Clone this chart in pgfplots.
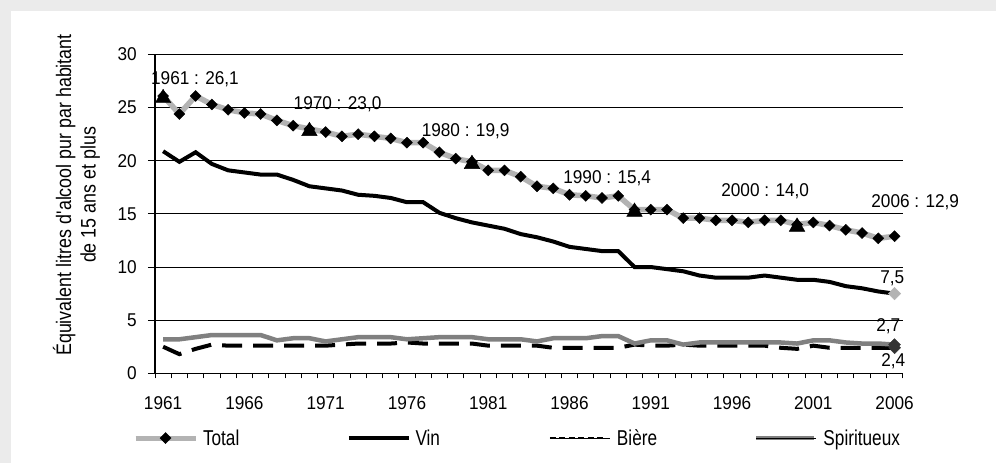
\documentclass[border=0pt]{standalone}
\usepackage{fontspec}
\setmainfont{Liberation Sans}[FakeStretch=0.93]
\newfontfamily\legfont{Liberation Sans}[FakeStretch=0.8]
\newfontfamily\labfont{Liberation Sans}[FakeStretch=0.85]
\usepackage{pgfplots}
\usepackage{pgfplotstable}
\pgfplotsset{compat=1.18}
\definecolor{bggray}{HTML}{EBEBEB}
\definecolor{totgray}{HTML}{B3B3B3}
\definecolor{spigray}{HTML}{808080}
\definecolor{dkgray}{HTML}{333333}

\pgfplotstableread{
i total vin biere spirit
0 26.1 20.9 2.5 3.2
1 24.4 19.9 1.8 3.2
2 26.1 20.8 2.3 3.4
3 25.3 19.7 2.7 3.6
4 24.8 19.1 2.6 3.6
5 24.5 18.9 2.6 3.6
6 24.4 18.7 2.6 3.6
7 23.8 18.7 2.6 3.1
8 23.3 18.2 2.6 3.3
9 23.0 17.6 2.6 3.3
10 22.7 17.4 2.6 3.0
11 22.3 17.2 2.7 3.2
12 22.5 16.8 2.8 3.4
13 22.3 16.7 2.8 3.4
14 22.1 16.5 2.8 3.4
15 21.7 16.1 2.9 3.2
16 21.7 16.1 2.8 3.3
17 20.8 15.1 2.8 3.4
18 20.2 14.6 2.8 3.4
19 19.9 14.2 2.8 3.4
20 19.1 13.9 2.6 3.2
21 19.1 13.6 2.6 3.2
22 18.5 13.1 2.6 3.2
23 17.6 12.8 2.6 3.0
24 17.4 12.4 2.4 3.3
25 16.8 11.9 2.4 3.3
26 16.7 11.7 2.4 3.3
27 16.5 11.5 2.4 3.5
28 16.7 11.5 2.4 3.5
29 15.4 10.0 2.7 2.8
30 15.4 10.0 2.6 3.1
31 15.4 9.8 2.6 3.1
32 14.6 9.6 2.7 2.7
33 14.6 9.2 2.6 2.9
34 14.4 9.0 2.6 2.9
35 14.4 9.0 2.6 2.9
36 14.2 9.0 2.6 2.9
37 14.4 9.2 2.6 2.9
38 14.4 9.0 2.4 2.9
39 14.0 8.8 2.3 2.8
40 14.2 8.8 2.6 3.1
41 13.9 8.6 2.4 3.1
42 13.5 8.2 2.4 2.9
43 13.2 8.0 2.4 2.8
44 12.7 7.7 2.4 2.8
45 12.9 7.5 2.4 2.7
}\data

\begin{document}
\begin{tikzpicture}
\fill[bggray] (0,0) rectangle (996bp,463bp);
\fill[white] (11bp,0) rectangle (996bp,452bp);
\begin{axis}[
  at={(155bp,89.7bp)}, anchor=south west,
  scale only axis, width=747.7bp, height=318.8bp,
  xmin=-0.5, xmax=45.5, ymin=0, ymax=30,
  axis lines*=left,
  axis line style={line width=1.2bp, black},
  ytick={0,5,...,30},
  ymajorgrids, grid style={black, line width=0.9bp},
  xtick={0,5,...,45},
  xticklabels={1961,1966,1971,1976,1981,1986,1991,1996,2001,2006},
  minor xtick={-0.5,0.5,...,45.5},
  major x tick style={draw=none},
  tick align=outside,
  major tick length=7bp, minor tick length=5bp,
  tick style={black, line width=0.9bp},
  ticklabel style={font=\fontsize{18.5bp}{22bp}\selectfont},
  /pgf/number format/assume math mode=true,
  xticklabel style={inner sep=0pt, anchor=north, yshift=-16bp},
  yticklabel style={inner sep=0pt, anchor=east, xshift=-11bp},
  ylabel={Équivalent litres d\textquotesingle alcool pur par habitant\\de 15 ans et plus},
  ylabel style={at={(axis description cs:-0.105,0.5593)}, anchor=center, align=center,
    font=\labfont\fontsize{21bp}{24.5bp}\selectfont},
  clip=false,
  legend columns=4,
  legend style={draw=none, fill=none, at={(axis description cs:-0.0294,-0.203)}, anchor=west,
    inner sep=0pt, outer sep=0pt, /tikz/every even column/.append style={column sep=0pt},
    font=\legfont\fontsize{21.5bp}{24bp}\selectfont, nodes={inner sep=0pt}},
  legend cell align=left,
]
\addplot[totgray, line width=5.5bp, mark=square*, mark size=3.9bp,
  mark options={rotate=45, fill=black, draw=black, line width=0.4bp, solid}, forget plot]
  table[x=i, y=total] \data;
\addplot[black, line width=4bp, forget plot] table[x=i, y=vin] \data;
\addplot[black, line width=4bp, dash pattern=on 20bp off 11bp, forget plot] table[x=i, y=biere] \data;
\addplot[spigray, line width=4.5bp, forget plot] table[x=i, y=spirit] \data;
% triangle highlights
\addplot[only marks, mark=triangle*, mark size=9bp, mark options={fill=black, draw=black, yshift=-2.3bp}, forget plot]
  coordinates {(0,26.1) (9,23.0) (19,19.9) (29,15.4) (39,14.0)};
% end markers
\addplot[only marks, mark=square*, mark size=4.4bp, mark options={rotate=45, fill=totgray, draw=totgray}, forget plot]
  coordinates {(45,7.5)};
\addplot[only marks, mark=square*, mark size=4.2bp, mark options={rotate=45, fill=dkgray, draw=dkgray}, forget plot]
  coordinates {(45,2.7) (45,2.4)};
% data labels
\node[font=\fontsize{18.5bp}{22bp}\selectfont] at (axis cs:1.96,27.66) {1961 : 26,1};
\node[font=\fontsize{18.5bp}{22bp}\selectfont] at (axis cs:10.73,25.31) {1970 : 23,0};
\node[font=\fontsize{18.5bp}{22bp}\selectfont] at (axis cs:18.61,22.8) {1980 : 19,9};
\node[font=\fontsize{18.5bp}{22bp}\selectfont] at (axis cs:27.32,18.33) {1990 : 15,4};
\node[font=\fontsize{18.5bp}{22bp}\selectfont] at (axis cs:37.04,17.16) {2000 : 14,0};
\node[font=\fontsize{18.5bp}{22bp}\selectfont] at (axis cs:46.27,16.1) {2006 : 12,9};
\node[font=\fontsize{18.5bp}{22bp}\selectfont] at (axis cs:44.86,8.93) {7,5};
\node[font=\fontsize{18.5bp}{22bp}\selectfont] at (axis cs:44.61,4.45) {2,7};
\node[font=\fontsize{18.5bp}{22bp}\selectfont] at (axis cs:44.92,1.09) {2,4};
% legend
\addlegendimage{legend image code/.code={
  \draw[totgray, line width=5bp] (0bp,0bp) -- (60bp,0bp);
  \fill[black] (30bp,5.5bp) -- (35.5bp,0bp) -- (30bp,-5.5bp) -- (24.5bp,0bp) -- cycle;}}
\addlegendentry{\hspace{5bp}\makebox[144bp][l]{Total}}
\addlegendimage{legend image code/.code={
  \draw[black, line width=3.5bp] (0bp,0bp) -- (60bp,0bp);}}
\addlegendentry{\hspace{5bp}\makebox[133bp][l]{Vin}}
\addlegendimage{legend image code/.code={
  \draw[black, line width=2.5bp, dash pattern=on 6bp off 3.5bp] (0bp,0bp) -- (56bp,0bp);
  \path (0bp,0bp) -- (60bp,0bp);}}
\addlegendentry{\hspace{7bp}\makebox[137bp][l]{Bière}}
\addlegendimage{legend image code/.code={
  \draw[spigray, line width=4.5bp] (0bp,0bp) -- (58bp,0bp);
  \path (0bp,0bp) -- (60bp,0bp);}}
\addlegendentry{\hspace{7bp}Spiritueux}
\end{axis}
\pgfresetboundingbox
\path (0,0) rectangle (996bp,463bp);
\end{tikzpicture}
\end{document}
